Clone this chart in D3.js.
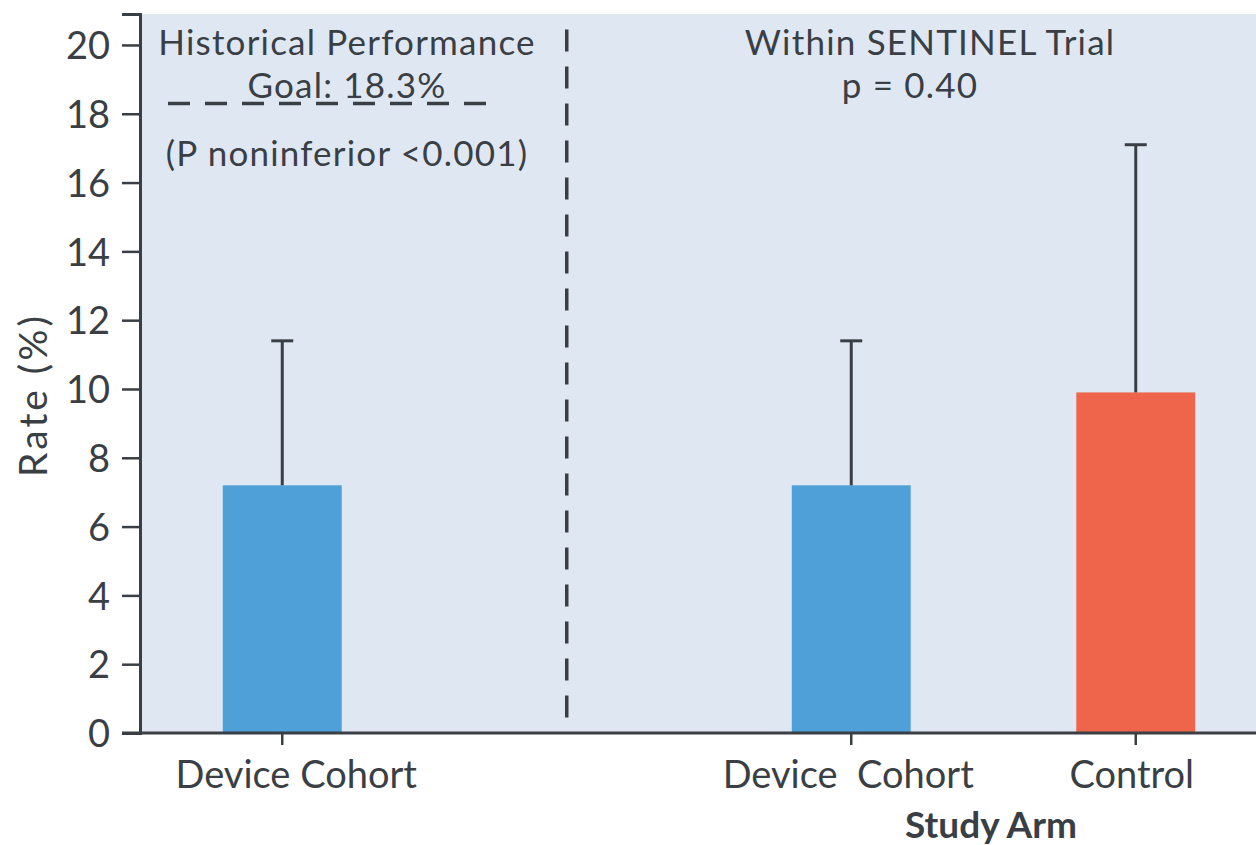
<!DOCTYPE html>
<html>
<head>
<meta charset="utf-8">
<script src="https://cdn.jsdelivr.net/npm/d3@7/dist/d3.min.js"></script>
<style>
  html, body { margin: 0; padding: 0; background: #ffffff; }
  svg { display: block; }
  text { font-family: Lato, "Open Sans", sans-serif; fill: #3a3f45; }
</style>
</head>
<body>
<svg id="chart" width="1256" height="845"></svg>
<script>
// Study arms, grouped into the historical comparison and the randomized trial
const slots = ["hist", "gap", "trialDevice", "trialControl"];
const barSlots = ["hist", "trialDevice", "trialControl"];
const barLabels = ["Device Cohort", "Device\u00a0 Cohort", "Control"];
const rates = [7.2, 7.2, 9.9];          // event rate (%)
const upperCI = [11.4, 11.4, 17.1];     // upper confidence bound (%)
const barGroups = ["device", "device", "control"];
const yTicks = [0, 2, 4, 6, 8, 10, 12, 14, 16, 18, 20];
const performanceGoal = 18.3;
const leftNotes = ["Historical Performance", "Goal: 18.3%", "(P noninferior <0.001)"];
const rightNotes = ["Within SENTINEL Trial", "p = 0.40"];
const yTitle = "Rate (%)";
const xTitle = "Study Arm";

// layout
const colors = { device: "#4f9fd8", control: "#ee654b" };
const ink = "#3a3f45";
const W = 1256, H = 845;
const margin = { left: 140, top: 14, bottom: 112 };
const plotRight = 1278;             // last slot runs past the visible edge
const labelDx = [14, -3, -4];       // small horizontal nudges of category labels
const leftNoteY = [55, 98, 166];
const rightNoteY = [55, 98];

const svg = d3.select("#chart");

const y = d3.scaleLinear().domain([0, 20.9]).range([H - margin.bottom, margin.top]);
const x = d3.scaleBand().domain(slots).range([margin.left, plotRight])
  .paddingInner(0.582).paddingOuter(0.291);

// plot background
svg.append("rect")
  .attr("x", margin.left).attr("y", y(20.9))
  .attr("width", W - margin.left).attr("height", y(0) - y(20.9))
  .attr("fill", "#dfe8f2");

// bars
svg.selectAll("rect.bar").data(barSlots).join("rect")
  .attr("class", "bar")
  .attr("x", d => x(d))
  .attr("width", x.bandwidth())
  .attr("y", (d, i) => y(rates[i]))
  .attr("height", (d, i) => y(0) - y(rates[i]))
  .attr("fill", (d, i) => colors[barGroups[i]]);

// upper error whiskers
const cx = d => x(d) + x.bandwidth() / 2;
svg.selectAll("line.err").data(barSlots).join("line")
  .attr("class", "err")
  .attr("x1", cx).attr("x2", cx)
  .attr("y1", (d, i) => y(rates[i]))
  .attr("y2", (d, i) => y(upperCI[i]))
  .attr("stroke", ink).attr("stroke-width", 3);
svg.selectAll("line.cap").data(barSlots).join("line")
  .attr("class", "cap")
  .attr("x1", d => cx(d) - 11).attr("x2", d => cx(d) + 11)
  .attr("y1", (d, i) => y(upperCI[i]))
  .attr("y2", (d, i) => y(upperCI[i]))
  .attr("stroke", ink).attr("stroke-width", 3);

// divider between historical and within-trial comparisons
svg.append("line")
  .attr("x1", cx("gap")).attr("x2", cx("gap"))
  .attr("y1", y(20.45)).attr("y2", y(0))
  .attr("stroke", ink).attr("stroke-width", 3.5)
  .attr("stroke-dasharray", "22,15");

// performance goal
svg.append("line")
  .attr("x1", 168).attr("x2", 490)
  .attr("y1", y(performanceGoal)).attr("y2", y(performanceGoal))
  .attr("stroke", ink).attr("stroke-width", 3.5)
  .attr("stroke-dasharray", "22,15");

// y axis
const yAxis = svg.append("g")
  .attr("transform", `translate(${margin.left},0)`)
  .call(d3.axisLeft(y).tickValues(yTicks).tickFormat(d3.format("d"))
    .tickSize(18).tickSizeOuter(18).tickPadding(12));
yAxis.select(".domain").attr("stroke", ink).attr("stroke-width", 3);
yAxis.selectAll(".tick line").attr("stroke", ink).attr("stroke-width", 2.5);
yAxis.selectAll(".tick text").attr("font-size", 38).attr("font-family", "Lato")
  .attr("fill", ink).attr("dy", "0.36em");

// x axis
const xAxis = svg.append("g")
  .attr("transform", `translate(0,${y(0)})`);
xAxis.append("line")
  .attr("x1", margin.left - 18).attr("x2", W)
  .attr("y1", 0).attr("y2", 0)
  .attr("stroke", ink).attr("stroke-width", 3);
xAxis.selectAll("line.xt").data(barSlots).join("line")
  .attr("class", "xt")
  .attr("x1", cx).attr("x2", cx).attr("y1", 0).attr("y2", 12)
  .attr("stroke", ink).attr("stroke-width", 2.5);
xAxis.selectAll("text.xl").data(barSlots).join("text")
  .attr("class", "xl")
  .attr("x", (d, i) => cx(d) + labelDx[i]).attr("y", 55)
  .attr("text-anchor", "middle")
  .style("font-size", "38px")
  .text((d, i) => barLabels[i]);

// axis titles
svg.append("text")
  .attr("transform", `translate(47,${(y(0) + y(20)) / 2 + 6}) rotate(-90)`)
  .attr("text-anchor", "middle")
  .style("font-size", "39px").style("letter-spacing", "3px")
  .text(yTitle);
svg.append("text")
  .attr("x", 991).attr("y", 838)
  .attr("text-anchor", "middle")
  .style("font-size", "37px").style("font-weight", "bold")
  .text(xTitle);

// annotations
svg.selectAll("text.ln").data(leftNotes).join("text")
  .attr("class", "ln")
  .attr("x", 347)
  .attr("y", (d, i) => leftNoteY[i])
  .attr("text-anchor", "middle")
  .style("font-size", "35px").style("letter-spacing", "1.2px")
  .text(d => d);
svg.selectAll("text.rn").data(rightNotes).join("text")
  .attr("class", "rn")
  .attr("x", (d, i) => [930, 910][i])
  .attr("y", (d, i) => rightNoteY[i])
  .attr("text-anchor", "middle")
  .style("font-size", "35px").style("letter-spacing", "1.2px")
  .text(d => d);
</script>
</body>
</html>
